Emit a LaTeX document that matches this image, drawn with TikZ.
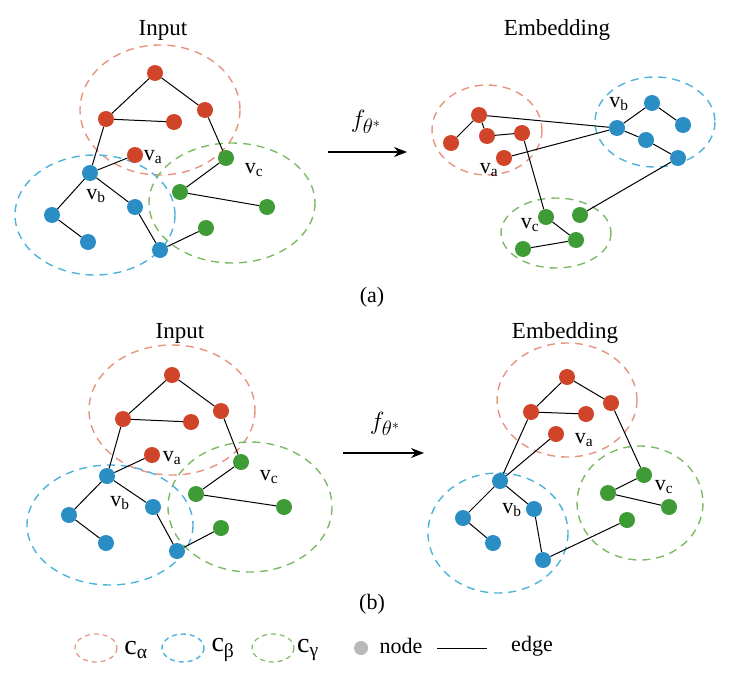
\documentclass[tikz,border=0pt]{standalone}
\usepackage{fontspec}
\setmainfont{Liberation Serif}
\usepackage{xcolor}
\usetikzlibrary{arrows.meta}
\definecolor{nred}{HTML}{D0452A}
\definecolor{nblue}{HTML}{2A8EC4}
\definecolor{ngreen}{HTML}{3E9B36}
\definecolor{cred}{HTML}{E8937E}
\definecolor{cblue}{HTML}{4DB3DB}
\definecolor{cgreen}{HTML}{7DBA68}

\begin{document}
\begin{tikzpicture}[
    x=1pt, y=-1pt,
    rnode/.style={circle, fill=nred, inner sep=0pt, minimum size=16pt},
    bnode/.style={circle, fill=nblue, inner sep=0pt, minimum size=16pt},
    gnode/.style={circle, fill=ngreen, inner sep=0pt, minimum size=16pt},
    clus/.style={dash pattern=on 8pt off 6pt, line width=1.4pt},
    edge/.style={black, line width=1pt},
    lbl/.style={font=\fontsize{22}{22}\selectfont},
    title/.style={font=\fontsize{23}{23}\selectfont},
    legtxt/.style={font=\fontsize{28}{28}\selectfont},
    fsym/.style={font=\fontsize{28}{28}\selectfont},
    map/.style={-{Stealth[length=13pt, width=10pt]}, line width=1.2pt}
]
\useasboundingbox (0,0) rectangle (743,690);

% (a) input
\draw[clus, cred] (160,110) ellipse [x radius=80, y radius=65];
\draw[clus, cblue] (95,215) ellipse [x radius=80, y radius=60];
\draw[clus, cgreen] (232,203) ellipse [x radius=83, y radius=60];
\node[title] (tia) at (163,30) {Input};
\node[rnode] (ar1) at (155,73) {};
\node[rnode] (ar2) at (106,119) {};
\node[rnode] (ar3) at (174,122) {};
\node[rnode] (ar4) at (205,110) {};
\node[rnode] (ava) at (135,155) {};
\node[bnode] (avb) at (90,173) {};
\node[bnode] (ab2) at (52,215) {};
\node[bnode] (ab3) at (88,242) {};
\node[bnode] (ab4) at (135,207) {};
\node[bnode] (ab5) at (160,250) {};
\node[gnode] (avc) at (226,158) {};
\node[gnode] (ag2) at (180,192) {};
\node[gnode] (ag3) at (267,207) {};
\node[gnode] (ag4) at (206,228) {};
\foreach \u/\v in {ar1/ar2, ar1/ar4, ar2/ar3, ar4/avc, ar2/avb, avb/ava, avb/ab2,
    ab2/ab3, avb/ab4, ab4/ab5, ab5/ag4, avc/ag2, ag2/ag3}
  \draw[edge] (\u) -- (\v);
\node[lbl] at (153,157) {v\textsubscript{a}};
\node[lbl] at (96,196) {v\textsubscript{b}};
\node[lbl] at (254,170) {v\textsubscript{c}};

% (a) embedding
\draw[clus, cred] (487,130) ellipse [x radius=55, y radius=45];
\draw[clus, cblue] (655,122) ellipse [x radius=60, y radius=45];
\draw[clus, cgreen] (556,233) ellipse [x radius=55, y radius=35];
\node[title] (tea) at (557,30) {Embedding};
\node[rnode] (er1) at (479,115) {};
\node[rnode] (er2) at (451,143) {};
\node[rnode] (er3) at (487,136) {};
\node[rnode] (er4) at (522,133) {};
\node[rnode] (eva) at (504,158) {};
\node[bnode] (evb) at (617,128) {};
\node[bnode] (eb2) at (652,103) {};
\node[bnode] (eb3) at (683,125) {};
\node[bnode] (eb4) at (646,140) {};
\node[bnode] (eb5) at (678,158) {};
\node[gnode] (evc) at (546,217) {};
\node[gnode] (eg2) at (580,215) {};
\node[gnode] (eg3) at (576,240) {};
\node[gnode] (eg4) at (523,249) {};
\foreach \u/\v in {er1/er2, er1/er3, er3/er4, er1/evb, eva/evb, er4/evc, evb/eb2,
    eb2/eb3, evb/eb4, eb4/eb5, eb5/eg2, evc/eg3, eg3/eg4}
  \draw[edge] (\u) -- (\v);
\node[lbl] at (489,170) {v\textsubscript{a}};
\node[lbl] at (619,104) {v\textsubscript{b}};
\node[lbl] at (530,225) {v\textsubscript{c}};

\coordinate (fa1) at (328,152);
\coordinate (fa2) at (407,152);
\draw[map] (fa1) -- (fa2);
\node[fsym] at (366,122) {$f_{\theta^*}$};
\node[lbl] (cap a) at (372,297) {(a)};

% (b) input
\draw[clus, cred] (172,410) ellipse [x radius=83, y radius=65];
\draw[clus, cblue] (110,525) ellipse [x radius=83, y radius=60];
\draw[clus, cgreen] (250,507) ellipse [x radius=82, y radius=65];
\node[title] (tib) at (180,333) {Input};
\node[rnode] (br1) at (172,375) {};
\node[rnode] (br2) at (123,419) {};
\node[rnode] (br3) at (191,422) {};
\node[rnode] (br4) at (221,411) {};
\node[rnode] (bva) at (152,455) {};
\node[bnode] (bvb) at (107,476) {};
\node[bnode] (bb2) at (69,515) {};
\node[bnode] (bb3) at (106,543) {};
\node[bnode] (bb4) at (153,507) {};
\node[bnode] (bb5) at (177,551) {};
\node[gnode] (bvc) at (241,462) {};
\node[gnode] (bg2) at (196,494) {};
\node[gnode] (bg3) at (284,507) {};
\node[gnode] (bg4) at (221,528) {};
\foreach \u/\v in {br1/br2, br1/br4, br2/br3, br4/bvc, br2/bvb, bvb/bva, bvb/bb2,
    bb2/bb3, bvb/bb4, bb4/bb5, bb5/bg4, bvc/bg2, bg2/bg3}
  \draw[edge] (\u) -- (\v);
\node[lbl] at (172,458) {v\textsubscript{a}};
\node[lbl] at (120,503) {v\textsubscript{b}};
\node[lbl] at (269,477) {v\textsubscript{c}};

% (b) embedding
\draw[clus, cred] (567,400) ellipse [x radius=70, y radius=57];
\draw[clus, cblue] (498,533) ellipse [x radius=70, y radius=60];
\draw[clus, cgreen] (640,503) ellipse [x radius=63, y radius=57];
\node[title] (teb) at (565,333) {Embedding};
\node[rnode] (fr1) at (567,377) {};
\node[rnode] (fr2) at (531,412) {};
\node[rnode] (fr3) at (586,414) {};
\node[rnode] (fr4) at (611,403) {};
\node[rnode] (fva) at (556,434) {};
\node[bnode] (fvb) at (500,481) {};
\node[bnode] (fb2) at (463,518) {};
\node[bnode] (fb3) at (493,543) {};
\node[bnode] (fb4) at (534,509) {};
\node[bnode] (fb5) at (543,560) {};
\node[gnode] (fvc) at (644,475) {};
\node[gnode] (fg2) at (608,493) {};
\node[gnode] (fg3) at (669,507) {};
\node[gnode] (fg4) at (627,520) {};
\foreach \u/\v in {fr1/fr2, fr1/fr4, fr2/fr3, fr4/fvc, fr2/fvb, fvb/fva, fvb/fb2,
    fb2/fb3, fvb/fb4, fb4/fb5, fb5/fg4, fvc/fg2, fg2/fg3}
  \draw[edge] (\u) -- (\v);
\node[lbl] at (584,440) {v\textsubscript{a}};
\node[lbl] at (512,510) {v\textsubscript{b}};
\node[lbl] at (664,487) {v\textsubscript{c}};

\coordinate (fb1) at (343,453);
\coordinate (fbb) at (424,453);
\draw[map] (fb1) -- (fbb);
\node[fsym] at (385,424) {$f_{\theta^*}$};
\node[lbl] (cap b) at (372,604) {(b)};

% legend
\draw[clus, cred, line width=1.2pt, dash pattern=on 5pt off 4pt] (96,648) ellipse [x radius=21, y radius=14];
\node[legtxt] at (136,650) {c\textsubscript{α}};
\draw[clus, cblue, line width=1.4pt, dash pattern=on 5pt off 4pt] (183,648) ellipse [x radius=21, y radius=14];
\node[legtxt] at (223,650) {c\textsubscript{β}};
\draw[clus, cgreen, line width=1.2pt, dash pattern=on 5pt off 4pt] (273,648) ellipse [x radius=21, y radius=14];
\node[legtxt] at (308,650) {c\textsubscript{γ}};
\node[circle, fill=gray!55, inner sep=0pt, minimum size=14pt] (lgn) at (361,648) {};
\node[lbl] at (401,646) {node};
\coordinate (le1) at (437,648);
\coordinate (le2) at (487,648);
\draw[edge] (le1) -- (le2);
\node[lbl] at (532,646) {edge};
\end{tikzpicture}
\end{document}
